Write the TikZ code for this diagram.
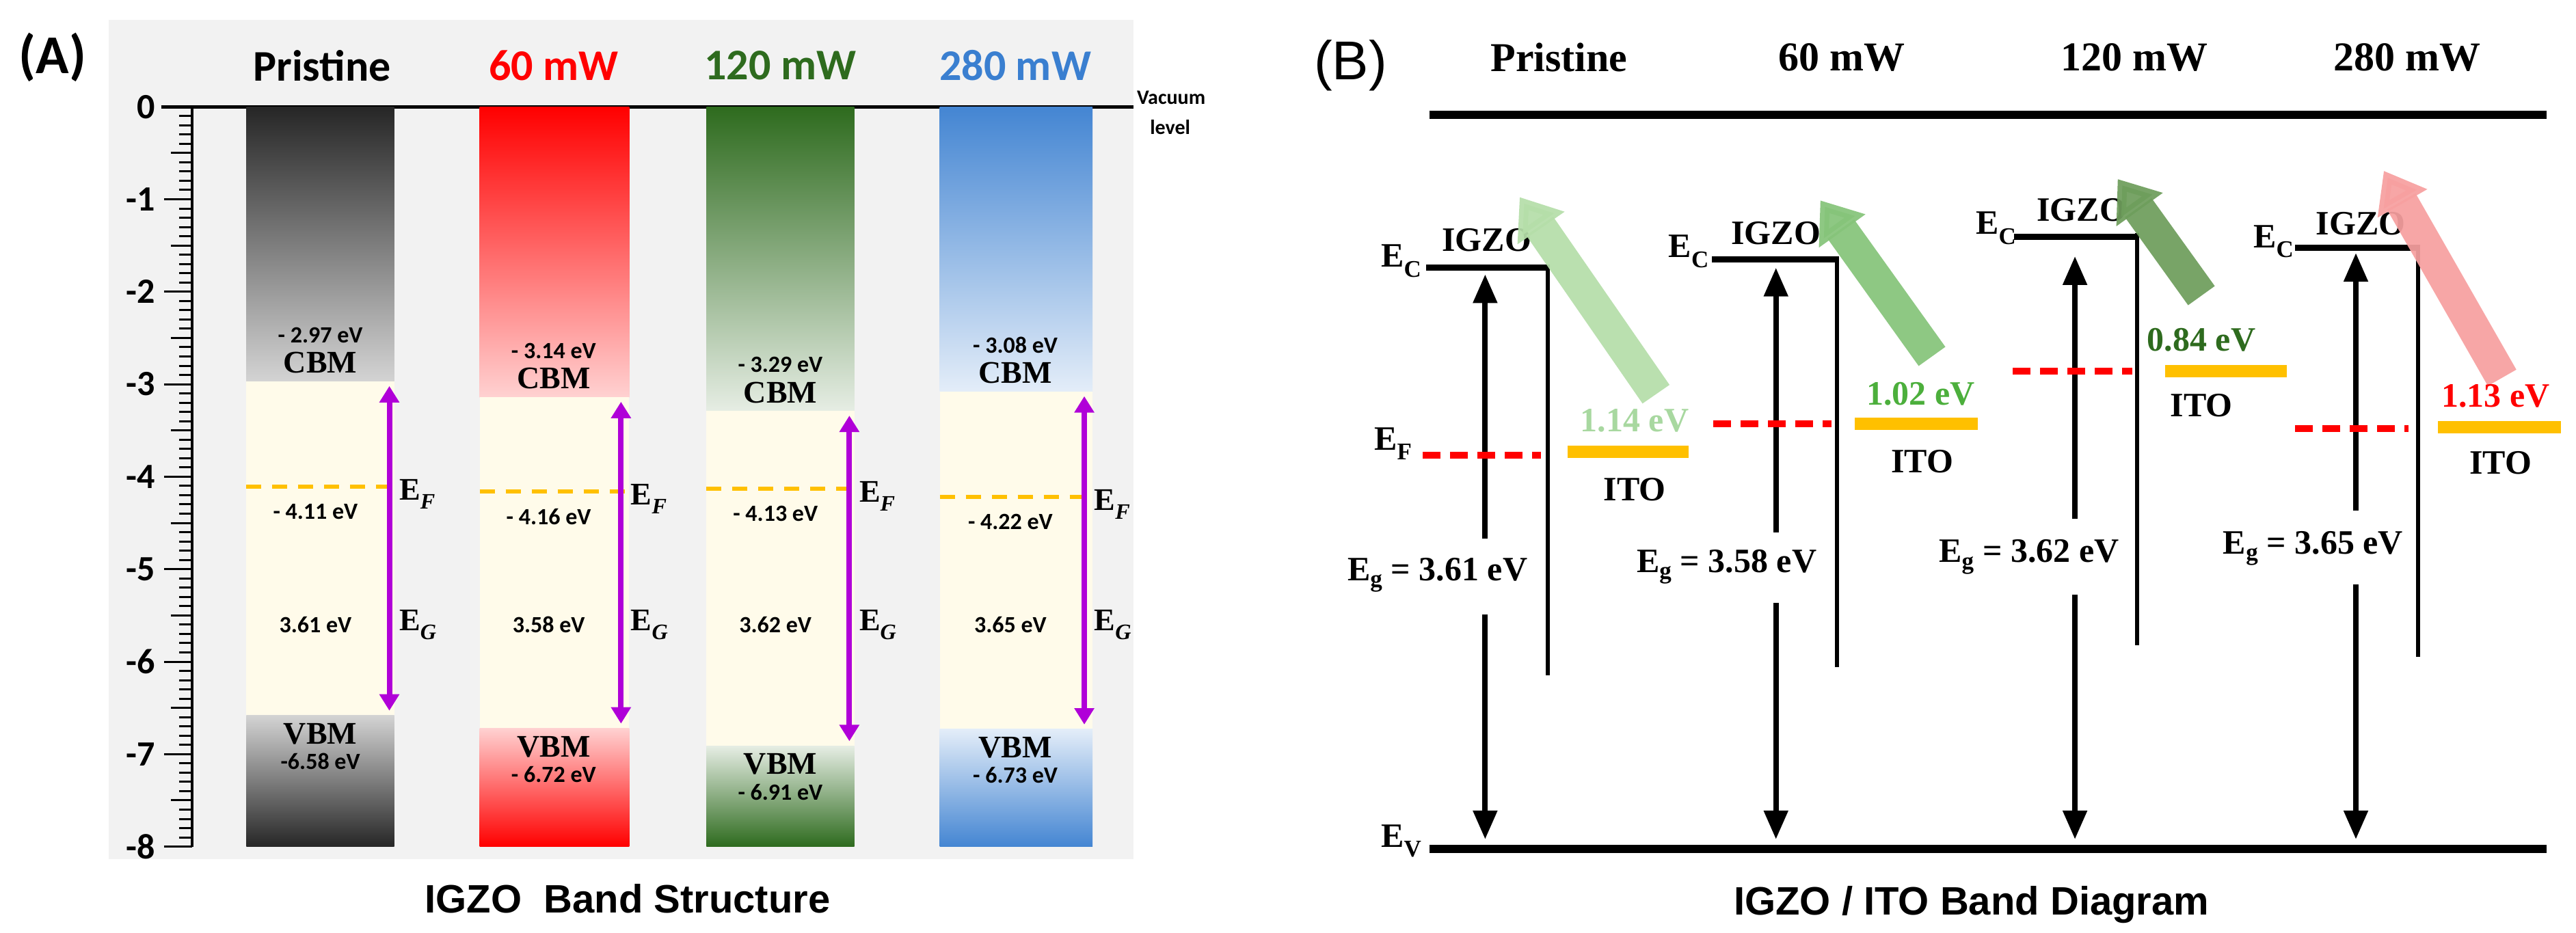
\documentclass[tikz,border=0pt]{standalone}
\usepackage{fontspec}
\setmainfont{Liberation Serif}
\newfontfamily\carl{Carlito}
\newfontfamily\ari{Liberation Sans}
\usetikzlibrary{arrows.meta}
\definecolor{cream}{HTML}{FFFBEA}
\definecolor{bgA}{HTML}{F2F2F2}
\definecolor{mag}{HTML}{B000D8}
\definecolor{orng}{HTML}{FFC000}
\definecolor{grn}{HTML}{2E6B1E}
\definecolor{blu}{HTML}{3A7FD0}
\definecolor{ca}{HTML}{B5DEA9}
\definecolor{cb}{HTML}{86C47A}
\definecolor{cc}{HTML}{6E9E5C}
\definecolor{cd}{HTML}{F7A0A0}
\definecolor{l1}{HTML}{A8D8A0}
\definecolor{l2}{HTML}{4CAF3C}
\newcommand\fs[1]{\fontsize{#1}{#1}\selectfont}
\tikzset{
 ttlA/.style={font=\carl\bfseries\fs{64}},
 evA/.style={font=\carl\bfseries\fs{34}},
 bmA/.style={font=\bfseries\fs{46}},
 elA/.style={font=\bfseries\fs{46},anchor=west,inner sep=0pt},
 ttlB/.style={font=\bfseries\fs{60}},
 txB/.style={font=\bfseries\fs{50}},
 gapB/.style={font=\bfseries\fs{50},inner sep=1pt},
 bigarr/.style={line width=48pt,-{Triangle[length=55pt,width=80pt]}},
 barr/.style={line width=8pt,-{Triangle[length=42pt,width=34pt]}},
 ecl/.style={line width=9pt},
 vl/.style={line width=6pt},
 efd/.style={red,line width=10pt,dash pattern=on 26pt off 14pt},
 ito/.style={orng,line width=18pt},
}
% A column shapes: xl xr cbm vbm ef dark light arrowx
\newcommand\colA[8]{%
 \shade[top color=#6,bottom color=#7] (#1,0) rectangle (#2,#3);
 \fill[cream] (#1,#3) rectangle (#2,#4);
 \shade[top color=#7,bottom color=#6] (#1,#4) rectangle (#2,-8);
 \draw[orng,line width=6pt,dash pattern=on 22pt off 16pt] (#1,#5) -- (#8+3,#5);
 \coordinate (t#8) at (#8,#3-0.05); \coordinate (b#8) at (#8,#4+0.05);
 \draw[mag,line width=8pt,{Triangle[length=24pt,width=28pt]}-{Triangle[length=24pt,width=28pt]}] (t#8) -- (b#8);
}
\begin{document}
\begin{tikzpicture}[x=2.403pt,y=2.403pt]
\useasboundingbox (0,0) rectangle (1568,568);
\fill[white] (0,0) rectangle (1568,568);
% ---------- Panel A ----------
\fill[bgA] (66,45) rectangle (690,556);
\node[font=\carl\bfseries\fs{80}] (lA) at (32,533) {(A)};
\node[ttlA] (tA1) at (196,528) {Pristine};
\node[ttlA,text=red] (tA2) at (337,528) {60 mW};
\node[ttlA,text=grn] (tA3) at (475,528) {120 mW};
\node[ttlA,text=blu] (tA4) at (618,528) {280 mW};
\node[font=\ari\bfseries\fs{58}] (tAb) at (382,21) {IGZO\ \ Band Structure};
\begin{scope}[shift={(0,503)},y=135.3pt]
 \draw[line width=5pt] (98,0) -- (690,0);
 \node[font=\carl\bfseries\fs{30},anchor=west,inner sep=0pt] (vac) at (692,0.1) {Vacuum};
 \node[font=\carl\bfseries\fs{30},anchor=west,inner sep=0pt] (lev) at (700,-0.22) {level};
 \draw[line width=4pt] (117,0) -- (117,-8);
 \foreach \i in {0,...,80}{
   \pgfmathtruncatemacro\m{mod(\i,10)}
   \pgfmathtruncatemacro\h{mod(\i,5)}
   \ifnum\m=0 \def\xs{100}\else\ifnum\h=0 \def\xs{104}\else\def\xs{109}\fi\fi
   \draw[line width=3pt] (\xs,-\i/10) -- (117,-\i/10);
 }
 \foreach \i in {0,...,8}{
   \ifnum\i=0 \def\lb{0}\else\def\lb{-\i}\fi
   \node[font=\carl\bfseries\fs{52},anchor=east] (ax\i) at (96,-\i) {\lb};
 }
 \colA{150}{240}{-2.97}{-6.58}{-4.11}{black!85}{black!17}{237}
 \colA{292}{383}{-3.14}{-6.72}{-4.16}{red}{red!18}{378}
 \colA{430}{520}{-3.29}{-6.91}{-4.13}{grn}{grn!12}{517}
 \colA{572}{665}{-3.08}{-6.73}{-4.22}{blu!95}{blu!14}{660}
 \foreach \qx/\qc/\qv/\qf/\qa/\tc/\tf/\tg/\tv [count=\k] in
   {195/-2.97/-6.58/-4.11/237/- 2.97 eV/- 4.11 eV/3.61 eV/-6.58 eV,
    337/-3.14/-6.72/-4.16/378/- 3.14 eV/- 4.16 eV/3.58 eV/- 6.72 eV,
    475/-3.29/-6.91/-4.13/517/- 3.29 eV/- 4.13 eV/3.62 eV/- 6.91 eV,
    618/-3.08/-6.73/-4.22/660/- 3.08 eV/- 4.22 eV/3.65 eV/- 6.73 eV}{
   \node[bmA] (cbm\k) at (\qx,\qc+0.2) {CBM};
   \node[evA] (cbe\k) at (\qx,\qc+0.5) {\tc};
   \node[evA] (efe\k) at (\qx-3,\qf-0.27) {\tf};
   \node[evA] (gap\k) at (\qx-3,-5.6) {\tg};
   \node[bmA] (vbm\k) at (\qx,\qv-0.2) {VBM};
   \node[evA] (vbe\k) at (\qx,\qv-0.5) {\tv};
   \node[elA] (ef\k) at (\qa+6,\qf-0.08) {E\textsubscript{\textit{F}}};
   \node[elA] (eg\k) at (\qa+6,-5.6) {E\textsubscript{\textit{G}}};
 }
\end{scope}
% ---------- Panel B ----------
\node[font=\ari\fs{80}] (lB) at (822,528) {(B)};
\node[ttlB] (tB1) at (949,533) {Pristine};
\node[ttlB] (tB2) at (1121,533) {60 mW};
\node[ttlB] (tB3) at (1299,533) {120 mW};
\node[ttlB] (tB4) at (1465,533) {280 mW};
\coordinate (vt1) at (870,498); \coordinate (vt2) at (1550,498);
\coordinate (ev1) at (870,51); \coordinate (ev2) at (1550,51);
\draw[line width=12pt] (vt1) -- (vt2);
\draw[line width=12pt] (ev1) -- (ev2);
\node[txB] (EV) at (853,56) {E\textsubscript{V}};
\node[font=\ari\bfseries\fs{58}] (tBb) at (1200,17) {IGZO / ITO Band Diagram};
\node[txB] (EF) at (848,298) {E\textsubscript{F}};
\foreach \pxa/\pxb/\pey/\pvb/\pax/\pat/\pub/\pdt/\pgx/\pgy/\pda/\pdb/\pdy/\pia/\pib/\piy/\plx/\ply/\pclx/\pcly/\pgzx/\pgzy/\ptx/\pty/\phx/\phy/\pcol/\pegt [count=\k] in
 {868/942/405/157/904/401/240/194/875/218/866/938/291/954/1028/293/995/270/853/409/905/422/1008/328/925/448/ca/3.61,
  1042/1118/410/162/1081/405/244/201/1051/223/1043/1115/310/1129/1204/310/1170/287/1028/415/1081/426/1176/351/1108/446/cb/3.58,
  1226/1301/424/175/1263/412/252/206/1235/229/1225/1298/342/1318/1392/342/1340/321/1215/429/1267/440/1340/388/1289/459/cc/3.62,
  1397/1472/417/168/1434/414/257/212/1408/234/1397/1466/307/1484/1559/308/1522/286/1384/421/1437/432/1523/338/1451/464/cd/3.65}{
  \coordinate (ca\k) at (\pxa,\pey); \coordinate (cb\k) at (\pxb,\pey); \coordinate (cv\k) at (\pxb,\pvb);
  \draw[ecl] (ca\k) -- (cb\k);
  \draw[vl] (\pxb,\pey+2) -- (cv\k);
  \coordinate (ua\k) at (\pax,\pub); \coordinate (ut\k) at (\pax,\pat);
  \coordinate (da\k) at (\pax,\pdt); \coordinate (dt\k) at (\pax,57);
  \draw[barr] (ua\k) -- (ut\k);
  \draw[barr] (da\k) -- (dt\k);
  \node[gapB] (eg\k) at (\pgx,\pgy) {E\textsubscript{g} = \pegt\ eV};
  \coordinate (fa\k) at (\pda,\pdy); \coordinate (fb\k) at (\pdb,\pdy);
  \draw[efd] (fa\k) -- (fb\k);
  \coordinate (ia\k) at (\pia,\piy); \coordinate (ib\k) at (\pib,\piy);
  \draw[ito] (ia\k) -- (ib\k);
  \node[txB] (ito\k) at (\plx,\ply) {ITO};
  \node[txB] (ec\k) at (\pclx,\pcly) {E\textsubscript{C}};
  \node[txB] (igzo\k) at (\pgzx,\pgzy) {IGZO};
  \coordinate (tl\k) at (\ptx,\pty); \coordinate (hd\k) at (\phx,\phy);
  \draw[bigarr,\pcol,opacity=0.93] (tl\k) -- (hd\k);
}
\node[txB,text=l1] (v1) at (995,312) {1.14 eV};
\node[txB,text=l2] (v2) at (1169,328) {1.02 eV};
\node[txB,text=grn] (v3) at (1340,361) {0.84 eV};
\node[txB,text=red] (v4) at (1519,327) {1.13 eV};
\end{tikzpicture}
\end{document}
